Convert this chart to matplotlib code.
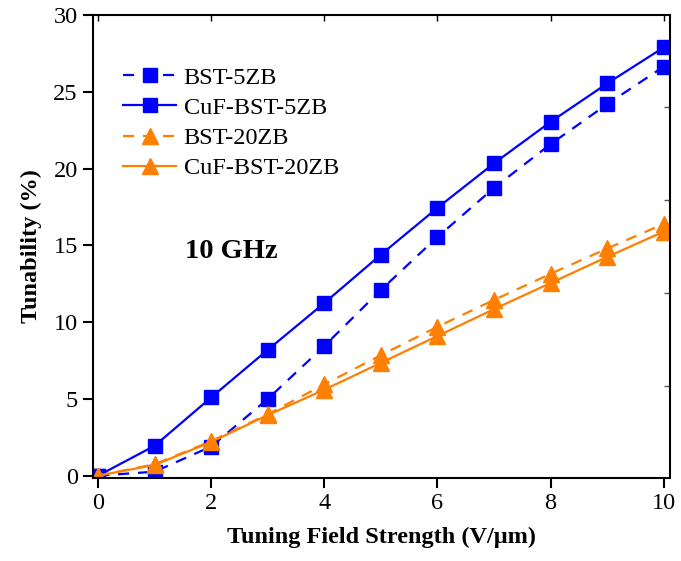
import matplotlib
matplotlib.use("Agg")
import matplotlib.pyplot as plt

plt.rcParams['font.family'] = ['Liberation Serif', 'DejaVu Serif']

field = [0, 1, 2, 3, 4, 5, 6, 7, 8, 9, 10]
bst_5zb = [0.0, 0.26, 1.9, 5.0, 8.45, 12.1, 15.55, 18.75, 21.6, 24.2, 26.65]
cuf_bst_5zb = [0.0, 1.95, 5.1, 8.2, 11.25, 14.4, 17.45, 20.35, 23.05, 25.55, 27.9]
bst_20zb = [0.0, 0.75, 2.25, 4.0, 5.95, 7.85, 9.7, 11.45, 13.15, 14.8, 16.4]
cuf_bst_20zb = [0.0, 0.7, 2.2, 3.95, 5.6, 7.35, 9.1, 10.85, 12.55, 14.25, 15.9]

labels = ['BST-5ZB', 'CuF-BST-5ZB', 'BST-20ZB', 'CuF-BST-20ZB']
xticks = [0, 2, 4, 6, 8, 10]
yticks = [0, 5, 10, 15, 20, 25, 30]

blue = '#0000FF'
orange = '#FF7F00'

fig = plt.figure(figsize=(6.81, 5.61), dpi=100)
ax = fig.add_axes([0.1366, 0.148, 0.8472, 0.825])

lw = 1.6
ax.plot(field, bst_5zb, color=blue, lw=lw, ls=(0, (5, 4)), marker='s', ms=9.5, label=labels[0])
ax.plot(field, cuf_bst_5zb, color=blue, lw=lw, ls='-', marker='s', ms=9.5, label=labels[1])
ax.plot(field, bst_20zb, color=orange, lw=lw, ls=(0, (5, 4)), marker='^', ms=11, label=labels[2])
ax.plot(field, cuf_bst_20zb, color=orange, lw=lw, ls='-', marker='^', ms=11, label=labels[3])

ax.set_xlim(-0.09, 10.11)
ax.set_ylim(-0.15, 30)
ax.set_xticks(xticks)
ax.set_yticks(yticks)
ax.tick_params(axis='both', direction='out', length=7, width=1.5, labelsize=17.5, pad=4,
               top=False, right=False)
for sp in ax.spines.values():
    sp.set_linewidth(1.5)

# top ticks (inward, short)
axt = ax.secondary_xaxis('top')
axt.set_xticks(xticks)
axt.tick_params(direction='in', length=4, width=1, labeltop=False)
axt.spines['top'].set_visible(False)
# right ticks (inward, short)
axr = ax.secondary_yaxis('right')
axr.set_yticks([5.85, 11.9, 17.95, 24.0])
axr.tick_params(direction='in', length=4, width=1, labelright=False, color='#555555')
axr.spines['right'].set_visible(False)

ax.set_xlabel('Tuning Field Strength (V/μm)', fontsize=17.5, fontweight='bold', labelpad=9)
ax.set_ylabel('Tunability (%)', fontsize=17.5, fontweight='bold', labelpad=8)

ax.text(1.53, 14.6, '10 GHz', fontsize=20.5, fontweight='bold', ha='left', va='center')

ax.legend(loc='upper left', bbox_to_anchor=(0.035, 0.91), frameon=False, fontsize=17.5,
          handlelength=2.2, handletextpad=0.3, labelspacing=0.34, borderaxespad=0)

fig.savefig('out.png', dpi=100)
